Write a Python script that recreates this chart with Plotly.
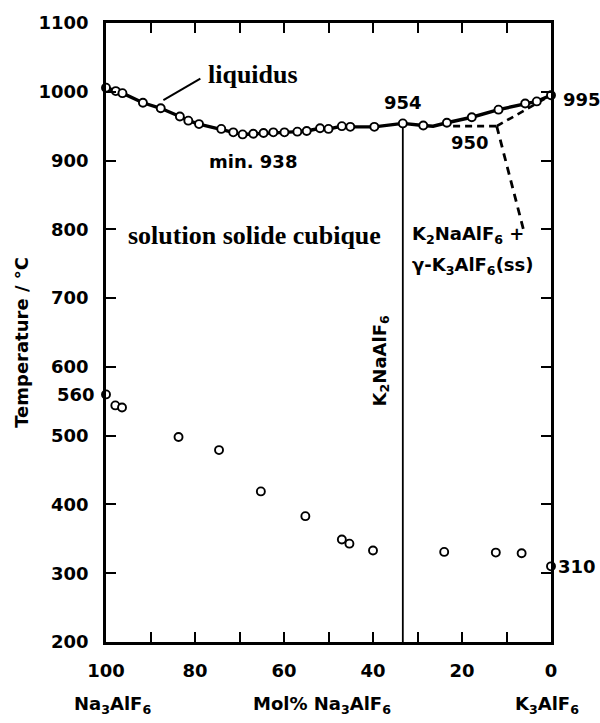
import plotly.graph_objects as go

# Liquidus measurements (mol% Na3AlF6, temperature / °C)
liq_x = [100, 97.8, 96.3, 91.7, 87.7, 83.4, 81.5, 79.1, 74.1, 71.4, 69.3, 66.9,
         64.6, 62.4, 59.9, 57.0, 54.9, 51.9, 50.0, 47.0, 45.1, 39.7, 33.3, 28.7,
         23.4, 17.8, 11.8, 5.8, 3.2, 0]
liq_y = [1006, 1001, 998, 984, 976, 964, 958, 953, 946, 941, 938, 939,
         940, 941, 941, 942, 943, 947, 946, 950, 949, 949, 954, 951,
         955, 963, 974, 983, 986, 995]

# Liquidus curve passes through the eutectic between K2NaAlF6 and K3AlF6
eut_x = 26.5
eut_y = 950

# Solid-state transition points
tr_x = [100, 97.9, 96.4, 83.7, 74.6, 65.2, 55.2, 47.0, 45.3, 40.0, 24.0, 12.4, 6.6, 0]
tr_y = [560, 544, 541, 498, 479, 419, 383, 349, 343, 333, 331, 330, 329, 310]

# Dashed boundaries of the K2NaAlF6 + gamma-K3AlF6(ss) field
eut_line_x = [22.0, 12.2]
solidus_x = [12.2, 0]
solidus_y = [950, 995]
solvus_x = [12.2, 6.2]
solvus_y = [950, 800]

# Congruent compound K2NaAlF6
compound_x = 33.3
compound_top = 954

x_ticks = [100, 90, 80, 70, 60, 50, 40, 30, 20, 10, 0]
x_ticktext = ["100", "", "80", "", "60", "", "40", "", "20", "", "0"]
y_ticks = [200, 300, 400, 500, 600, 700, 800, 900, 1000, 1100]

BLACK = "#000000"
SANS = "DejaVu Sans"
SERIF = "Liberation Serif"

# line through liquidus points with eutectic inserted
pts = sorted(list(zip(liq_x, liq_y)) + [(eut_x, eut_y)], key=lambda p: -p[0])
line_x = [p[0] for p in pts]
line_y = [p[1] for p in pts]

fig = go.Figure()

fig.add_trace(go.Scatter(x=[compound_x, compound_x], y=[200, compound_top], mode="lines",
                         line=dict(color=BLACK, width=1.8), cliponaxis=False, showlegend=False))
fig.add_trace(go.Scatter(x=eut_line_x, y=[eut_y, eut_y], mode="lines",
                         line=dict(color=BLACK, width=2.6, dash="7px,5px"), showlegend=False))
fig.add_trace(go.Scatter(x=solidus_x, y=solidus_y, mode="lines",
                         line=dict(color=BLACK, width=2.6, dash="7px,5px"), showlegend=False))
fig.add_trace(go.Scatter(x=solvus_x, y=solvus_y, mode="lines",
                         line=dict(color=BLACK, width=2.8, dash="8px,6px"), showlegend=False))
fig.add_trace(go.Scatter(x=line_x, y=line_y, mode="lines",
                         line=dict(color=BLACK, width=3.4), cliponaxis=False, showlegend=False))
fig.add_trace(go.Scatter(x=liq_x, y=liq_y, mode="markers", cliponaxis=False,
                         marker=dict(symbol="circle", size=8, color="white",
                                     line=dict(color=BLACK, width=1.9)),
                         showlegend=False))
fig.add_trace(go.Scatter(x=tr_x, y=tr_y, mode="markers", cliponaxis=False,
                         marker=dict(symbol="circle", size=8, color="white",
                                     line=dict(color=BLACK, width=1.9)),
                         showlegend=False))

tick_font = dict(family=SANS, size=18, color=BLACK, weight="bold")
lbl_font = dict(family=SANS, size=18, color=BLACK, weight="bold")

fig.update_xaxes(range=[100, 0], tickvals=x_ticks, ticktext=x_ticktext,
                 ticks="inside", ticklen=10, tickwidth=2, tickcolor=BLACK,
                 showline=True, linewidth=2.6, linecolor=BLACK, mirror="ticks",
                 showgrid=False, zeroline=False, tickfont=tick_font,
                 ticklabelstandoff=11)
fig.update_yaxes(range=[200, 1100], tickvals=y_ticks,
                 ticks="inside", ticklen=10, tickwidth=2, tickcolor=BLACK,
                 showline=True, linewidth=2.6, linecolor=BLACK, mirror="ticks",
                 showgrid=False, zeroline=False, tickfont=tick_font,
                 ticklabelstandoff=11)

ann = []
def text(x, y, s, font, xanchor="center", yanchor="middle", xref="x", yref="y",
         angle=0, xshift=0, yshift=0):
    ann.append(dict(x=x, y=y, text=s, font=font, xanchor=xanchor, yanchor=yanchor,
                    xref=xref, yref=yref, showarrow=False, textangle=angle,
                    xshift=xshift, yshift=yshift))

serif_bold = dict(family=SERIF, size=26, color=BLACK, weight="bold")
text(77.5, 1025, "liquidus", serif_bold, xanchor="left")
text(95.5, 791, "solution solide cubique", serif_bold, xanchor="left")
text(66.9, 898, "min. 938", lbl_font)
text(compound_x, 984, "954", lbl_font)
text(18.2, 926, "950", lbl_font)
text(0, 995, "995", lbl_font, xanchor="left", xshift=10, yshift=-4)
text(0, 310, "310", lbl_font, xanchor="left", xshift=5)
text(100, 560, "560", lbl_font, xanchor="right", xshift=-9)
text(31.7, 792, "K<sub>2</sub>NaAlF<sub>6</sub> +", lbl_font, xanchor="left")
text(31.7, 746, "γ-K<sub>3</sub>AlF<sub>6</sub>(ss)", lbl_font, xanchor="left")
text(38.2, 608, "K<sub>2</sub>NaAlF<sub>6</sub>", lbl_font, angle=-90)
text(-0.19, 0.484, "Temperature / °C", lbl_font, xref="paper", yref="paper", angle=-90)
text(98.6, -0.102, "Na<sub>3</sub>AlF<sub>6</sub>", lbl_font, yref="paper")
text(51.4, -0.102, "Mol% Na<sub>3</sub>AlF<sub>6</sub>", lbl_font, yref="paper")
text(0.9, -0.102, "K<sub>3</sub>AlF<sub>6</sub>", lbl_font, yref="paper")

fig.update_layout(
    width=600, height=723,
    margin=dict(l=106, r=49, t=17, b=81),
    paper_bgcolor="white", plot_bgcolor="white",
    annotations=ann,
    shapes=[dict(type="line", xref="x", yref="y", x0=78.8, y0=1019, x1=87.1, y1=988,
                 line=dict(color=BLACK, width=2))],
)

fig.write_html("out.html")
